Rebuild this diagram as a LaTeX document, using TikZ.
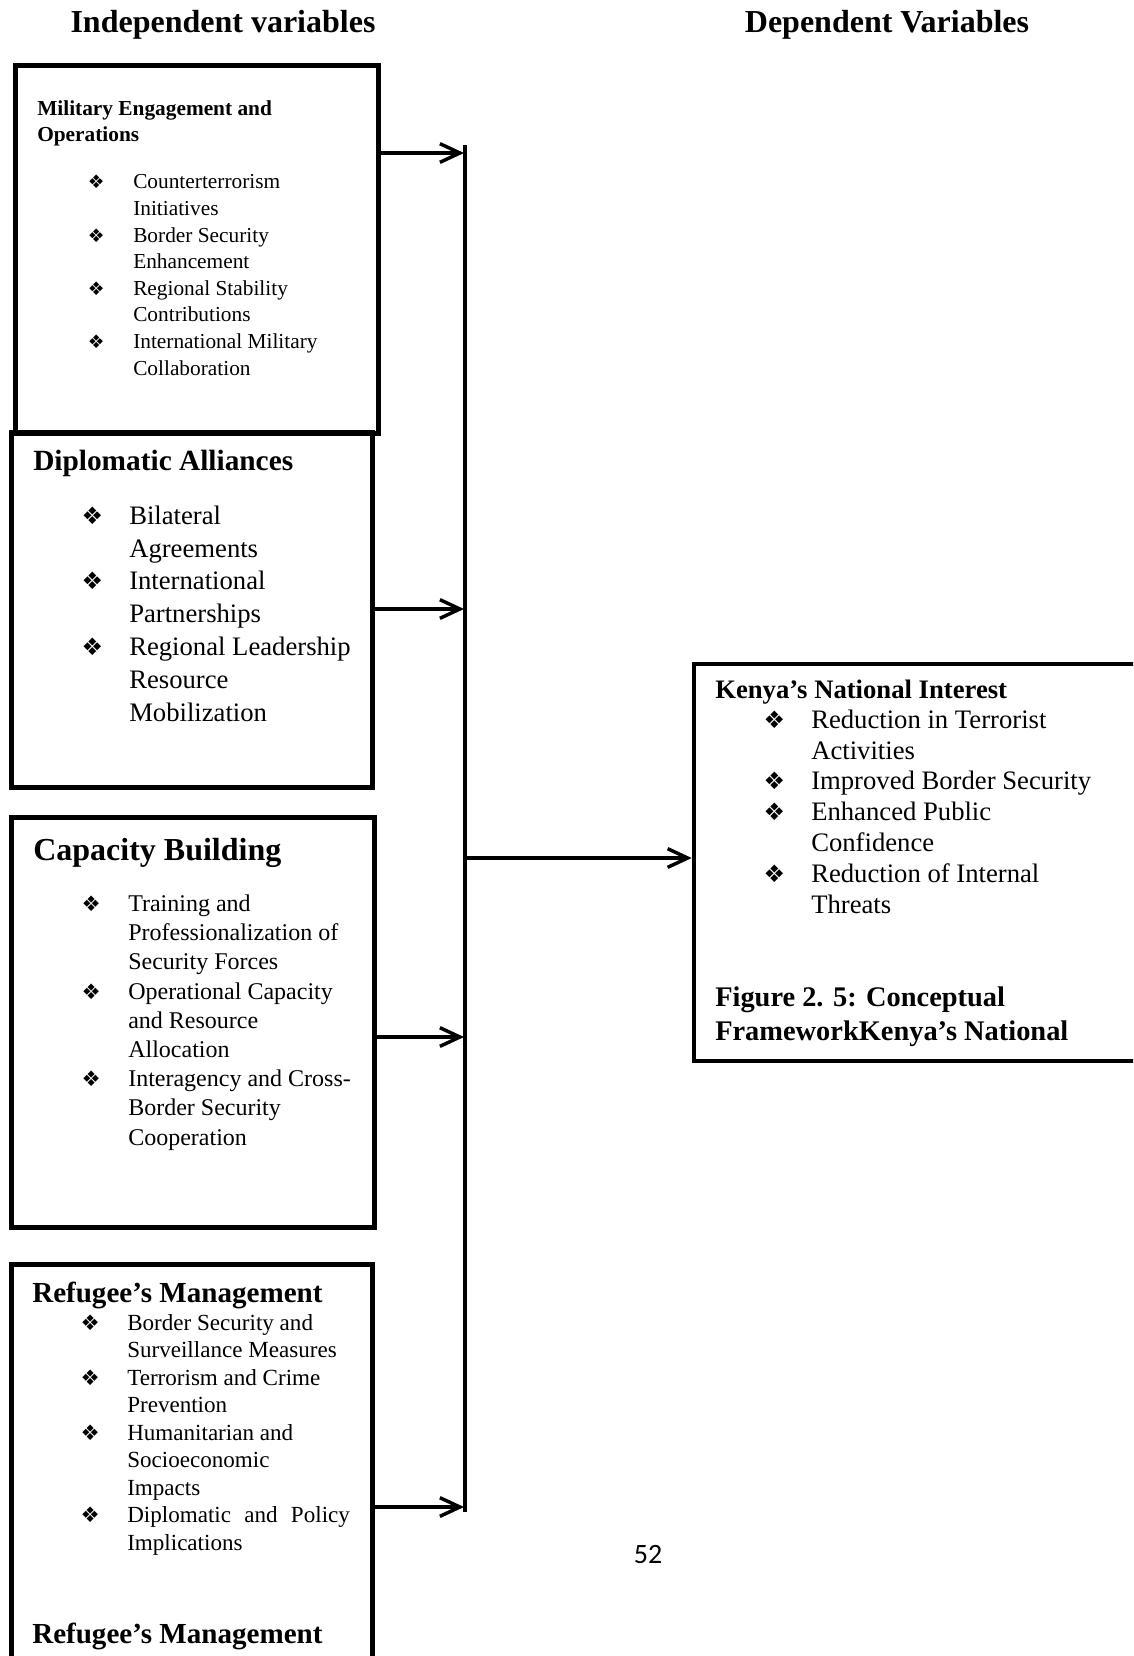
\documentclass[tikz,border=0pt]{standalone}
\usepackage{fontspec}
\setmainfont{Liberation Serif}
\newfontfamily\dejavu{DejaVu Sans}
\newfontfamily\carlito{Carlito}
\usetikzlibrary{arrows.meta,fit}
\newcommand{\bulx}[1]{\llap{\makebox[0pt][c]{\dejavu\fontsize{#1}{#1}\selectfont ❖}\hspace{27.75pt}}}
\tikzset{
  box/.style={draw, line width=3.75pt, inner sep=0pt},
  kbox/.style={draw, line width=3.4pt, inner sep=0pt},
  txt/.style={anchor=base west, inner sep=0pt, align=left},
  arr/.style={line width=3pt, -{Straight Barb[length=15pt,width=14pt,line width=2.6pt]}},
  vline/.style={line width=2.3pt},
}
\begin{document}
\begin{tikzpicture}[x=0.75pt,y=-0.75pt]
\clip (0,0) rectangle (1133,1656);
\fill[white] (0,0) rectangle (1133,1656);
% headers
\node[anchor=base, inner sep=0pt, font=\fontsize{24pt}{28pt}\selectfont\bfseries] (h1) at (223,32) {Independent variables};
\node[anchor=base, inner sep=0pt, font=\fontsize{24pt}{28pt}\selectfont\bfseries] (h2) at (887,32) {Dependent Variables};
% boxes
\node[box, fit={(15,65) (378,433)}] (b1) {};
\node[box, fit={(11,432.5) (372.5,787.5)}] (b2) {};
\node[box, fit={(11,817.5) (374.5,1227.5)}] (b3) {};
\node[box, fit={(11,1264.5) (372,1720)}] (b4) {};
\node[kbox, fit={(694,664) (1150,1061)}] (k) {};
% box 1 (base anchor = baseline of last line)
\node[txt, font=\fontsize{16pt}{19.5pt}\selectfont\bfseries] (b1t) at (37,141) {Military Engagement and\\Operations};
\node[txt, font=\fontsize{16pt}{19.95pt}\selectfont] (b1i) at (133,375) {\bulx{14pt}Counterterrorism\\Initiatives\\\bulx{14pt}Border Security\\Enhancement\\\bulx{14pt}Regional Stability\\Contributions\\\bulx{14pt}International Military\\Collaboration};
% box 2
\node[txt, font=\fontsize{22pt}{26pt}\selectfont\bfseries] (b2t) at (33,470) {Diplomatic Alliances};
\node[txt, font=\fontsize{20pt}{24.6pt}\selectfont] (b2i) at (129,721) {\bulx{18pt}Bilateral\\Agreements\\\bulx{18pt}International\\Partnerships\\\bulx{18pt}Regional Leadership\\Resource\\Mobilization};
% box 3
\node[txt, font=\fontsize{24pt}{28pt}\selectfont\bfseries] (b3t) at (33,860) {Capacity Building};
\node[txt, font=\fontsize{18pt}{21.9pt}\selectfont] (b3i) at (128,1145) {\bulx{16pt}Training and\\Professionalization of\\Security Forces\\\bulx{16pt}Operational Capacity\\and Resource\\Allocation\\\bulx{16pt}Interagency and Cross-\\Border Security\\Cooperation};
% box 4
\node[txt, font=\fontsize{21.8pt}{25pt}\selectfont\bfseries] (b4t) at (32,1302) {Refugee’s Management};
\node[txt, font=\fontsize{17.3pt}{20.6pt}\selectfont] (b4i) at (127,1550) {\bulx{16pt}Border Security and\\Surveillance Measures\\\bulx{16pt}Terrorism and Crime\\Prevention\\\bulx{16pt}Humanitarian and\\Socioeconomic\\Impacts\\\bulx{16pt}\makebox[167pt][s]{Diplomatic and Policy}\\Implications};
\node[txt, font=\fontsize{21.8pt}{25pt}\selectfont\bfseries] (b4t2) at (32,1643) {Refugee’s Management};
% Kenya box
\node[txt, font=\fontsize{20pt}{24pt}\selectfont\bfseries] (kt) at (715,698) {Kenya’s National Interest};
\node[txt, font=\fontsize{20pt}{23.1pt}\selectfont] (ki) at (811,913) {\bulx{18pt}Reduction in Terrorist\\Activities\\\bulx{18pt}Improved Border Security\\\bulx{18pt}Enhanced Public\\Confidence\\\bulx{18pt}Reduction of Internal\\Threats};
\node[txt, font=\fontsize{21.3pt}{25pt}\selectfont\bfseries] (kf) at (715,1040) {Figure 2. 5: Conceptual\\FrameworkKenya’s National};
% page number
\node[anchor=base, inner sep=0pt, font=\carlito\fontsize{21pt}{24pt}\selectfont] (pg) at (648,1563) {52};
% connectors
\coordinate (vt) at (465,145);
\coordinate (vb) at (465,1512);
\draw[vline] (vt) -- (vb);
\coordinate (a1) at (464,153);
\coordinate (a2) at (464,609);
\coordinate (a3) at (464,1037);
\coordinate (a4) at (464,1507);
\draw[arr] (b1.east |- a1) -- (a1);
\draw[arr] (b2.east |- a2) -- (a2);
\draw[arr] (b3.east |- a3) -- (a3);
\draw[arr] (b4.east |- a4) -- (a4);
\coordinate (j) at (465,858);
\draw[arr] (j) -- (j -| k.west);
\end{tikzpicture}
\end{document}
